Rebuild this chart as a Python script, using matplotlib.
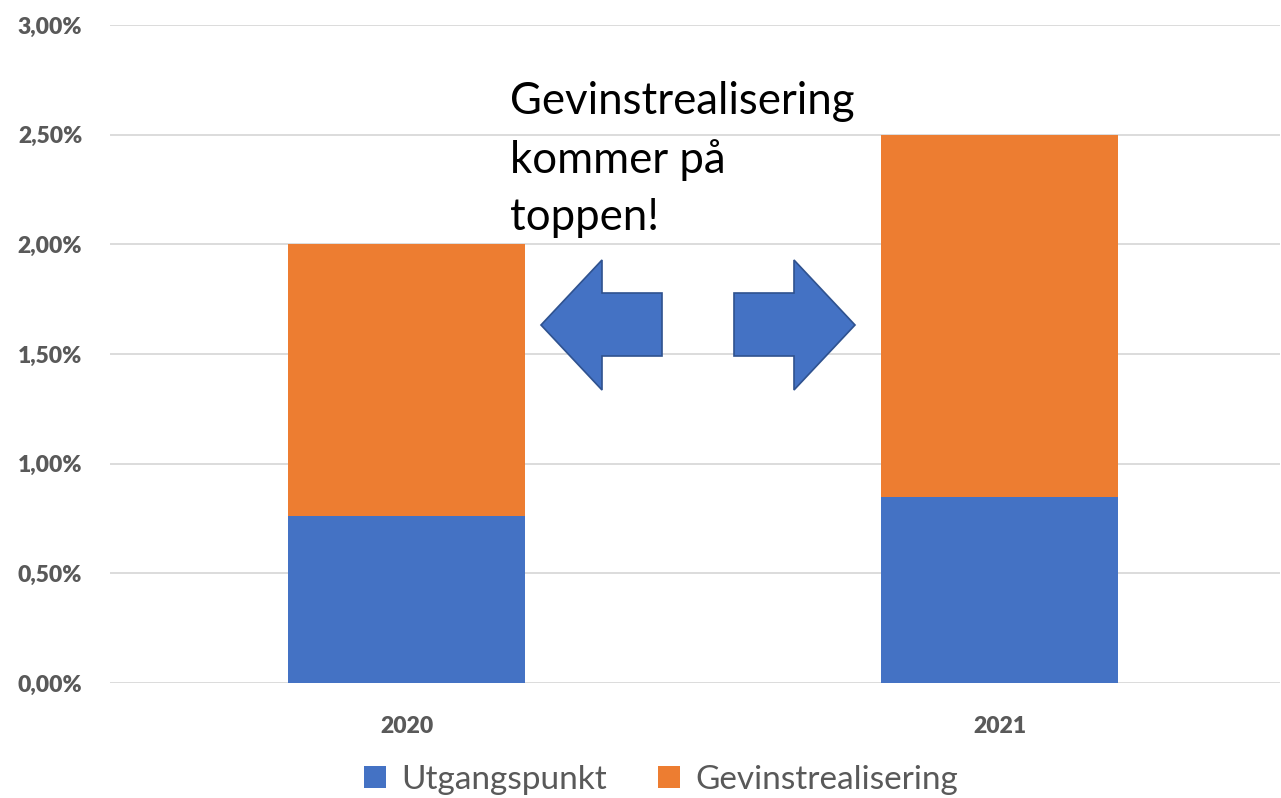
import matplotlib
matplotlib.use("Agg")
import matplotlib.pyplot as plt
from matplotlib.patches import Polygon
import numpy as np

years = ["2020", "2021"]
utgangspunkt = [0.76, 0.85]        # %
gevinst = [1.24, 1.65]             # %
series_names = ["Utgangspunkt", "Gevinstrealisering"]
yticks = [0.0, 0.5, 1.0, 1.5, 2.0, 2.5, 3.0]
note = "Gevinstrealisering\nkommer på\ntoppen!"

blue = "#4472c4"
orange = "#ed7d31"
grey = "#595959"

plt.rcParams['font.family'] = ['Lato', 'DejaVu Sans']

W, H = 1281, 798
fig = plt.figure(figsize=(W / 100, H / 100), dpi=100)
ax = fig.add_axes([110 / W, 1 - 683 / H, 1170 / W, 658 / H])

x = np.arange(len(years))
bw = 0.4
ax.bar(x, utgangspunkt, bw, color=blue, label=series_names[0], zorder=3)
ax.bar(x, gevinst, bw, bottom=utgangspunkt, color=orange, label=series_names[1], zorder=3)

ax.set_xlim(-0.5, 1.473)
ax.set_ylim(0, 3.0)
ax.set_yticks(yticks)
ax.set_yticklabels([f"{v:.2f}%".replace(".", ",") for v in yticks])
ax.set_xticks(x)
ax.set_xticklabels(years)
for lab in ax.get_yticklabels() + ax.get_xticklabels():
    lab.set_fontweight("heavy")
    lab.set_color(grey)
    lab.set_fontsize(16.5)
ax.tick_params(axis="y", length=0, pad=20)
ax.tick_params(axis="x", length=0, pad=24)
ax.grid(axis="y", color="#d9d9d9", linewidth=1.3, zorder=0)
for s in ax.spines.values():
    s.set_visible(False)

# arrows (pixel coordinates -> figure fraction)
def px(pts):
    return [(a / W, 1 - b / H) for a, b in pts]

left_arrow = [(541, 325), (602, 260), (602, 293), (662, 293), (662, 356), (602, 356), (602, 390)]
right_arrow = [(855, 325), (794, 260), (794, 293), (734, 293), (734, 356), (794, 356), (794, 390)]
for pts in (left_arrow, right_arrow):
    fig.patches.append(Polygon(px(pts), closed=True, facecolor=blue, edgecolor="#2f528f",
                               linewidth=1.2, transform=fig.transFigure, zorder=5))

fig.text(510 / W, 1 - 81 / H, note, fontsize=31.5, va="top", ha="left",
         linespacing=1.5, color="black")

leg = fig.legend(loc="upper center", bbox_to_anchor=(0.516, 1 - 735 / H), ncol=2,
                 frameon=False, fontsize=24, handlelength=0.65, handleheight=0.65,
                 handletextpad=0.45, columnspacing=1.55)
for t in leg.get_texts():
    t.set_color(grey)

fig.savefig("out.png", dpi=100)
